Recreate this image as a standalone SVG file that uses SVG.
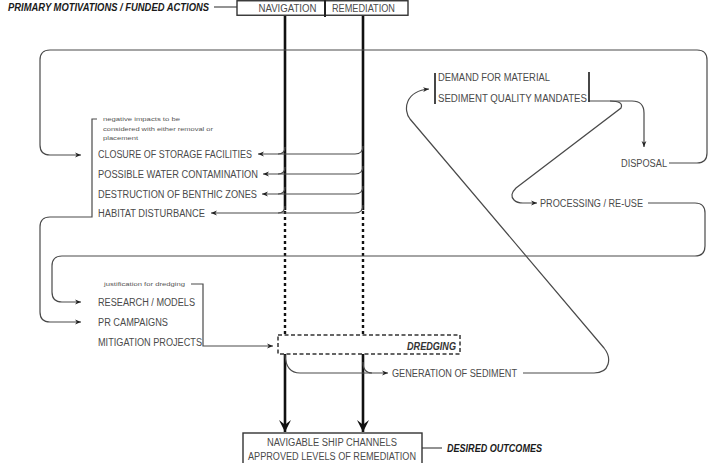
<svg xmlns="http://www.w3.org/2000/svg" width="715" height="463" viewBox="0 0 715 463">
<style>
  .t { font-family: "Liberation Sans", Arial, sans-serif; font-size: 10px; fill: #4a4a4a; }
  .s { font-family: "Liberation Sans", Arial, sans-serif; font-size: 6px; fill: #555; }
  .b { font-family: "Liberation Sans", Arial, sans-serif; font-size: 10px; font-weight: bold; font-style: italic; fill: #1a1a1a; }
  .ln { fill: none; stroke: #4a4a4a; stroke-width: 1.2; }
  .thick { fill: none; stroke: #111; stroke-width: 2.6; }
  .dot { fill: none; stroke: #111; stroke-width: 2.4; stroke-dasharray: 3 3; }
  .box { fill: #fff; stroke: #333; stroke-width: 1.4; }
  .dbox { fill: none; stroke: #333; stroke-width: 1.5; stroke-dasharray: 4 2.5; }
  .bar { stroke: #333; stroke-width: 1.8; }
</style>
<defs>
  <marker id="ah" viewBox="0 0 10 10" refX="10" refY="5" markerWidth="6" markerHeight="6" markerUnits="userSpaceOnUse" orient="auto">
    <path d="M0,1 L10,5 L0,9 L3,5 z" fill="#222"/>
  </marker>
  <marker id="big" viewBox="0 0 10 10" refX="10" refY="5" markerWidth="12" markerHeight="13" markerUnits="userSpaceOnUse" orient="auto">
    <path d="M0,0 L10,5 L0,10 L4,5 z" fill="#111"/>
  </marker>
</defs>
<rect width="715" height="463" fill="#fff"/>

<g id="connectors">
  <!-- primary label leader -->
  <path class="ln" d="M214 7 H237"/>
  <!-- vertical navigation / remediation -->
  <path class="thick" d="M285 15.5 V210"/>
  <path class="thick" d="M363 15.5 V210"/>
  <path class="dot" d="M285 211 V335"/>
  <path class="dot" d="M363 211 V335"/>
  <path class="thick" d="M285 354 V432" marker-end="url(#big)"/>
  <path class="thick" d="M363 354 V432" marker-end="url(#big)"/>
  <!-- impacts arrows -->
  <path class="ln" d="M363 146 Q363 154 355 154 H258" marker-end="url(#ah)"/>
  <path class="ln" d="M285 147 Q285 154 278 154"/>
  <path class="ln" d="M363 166 Q363 174 355 174 H263" marker-end="url(#ah)"/>
  <path class="ln" d="M285 167 Q285 174 278 174"/>
  <path class="ln" d="M363 186 Q363 194 355 194 H262" marker-end="url(#ah)"/>
  <path class="ln" d="M285 187 Q285 194 278 194"/>
  <path class="ln" d="M363 205 Q363 213 355 213 H211" marker-end="url(#ah)"/>
  <path class="ln" d="M285 206 Q285 213 278 213"/>
  <!-- disposal loop back to closure -->
  <path class="ln" d="M669 163 H697 Q707 163 707 153 V60 Q707 50 697 50 H50 Q40 50 40 60 V145 Q40 155 50 155 H81" marker-end="url(#ah)"/>
  <!-- impacts bracket to PR campaigns -->
  <path class="ln" d="M97 119 H92 V217 H50 Q40 217 40 227 V312 Q40 322 50 322 H81" marker-end="url(#ah)"/>
  <!-- processing loop back to research -->
  <path class="ln" d="M648 203 H695 Q705 203 705 213 V246 Q705 256 695 256 H62 Q52 256 52 266 V292 Q52 302 62 302 H81" marker-end="url(#ah)"/>
  <!-- justification bracket to dredging -->
  <path class="ln" d="M191 284 H203 V346 H273" marker-end="url(#ah)"/>
  <!-- dredging to generation of sediment -->
  <path class="ln" d="M285 355 Q286 373 300 373 H388" marker-end="url(#ah)"/>
  <path class="ln" d="M363 362 Q363 373 372 373"/>
  <!-- generation of sediment back to demand -->
  <path class="ln" d="M523 373 H594 C610 373 612 358 604 348 L410 119 C403 110 405 91 429 89" marker-end="url(#ah)"/>
  <!-- mandates to disposal -->
  <path class="ln" d="M589 101 H632 Q644 101 644 113 V147" marker-end="url(#ah)"/>
  <!-- mandates to processing -->
  <path class="ln" d="M610 101 Q624 101 621 108 L516 188 Q509 195 514 200 Q517 203 523 203 H537" marker-end="url(#ah)"/>
  <!-- desired outcomes leader -->
  <path class="ln" d="M422 448 H442"/>
</g>

<g id="primary-label">
  <text class="b" x="8" y="10.5" textLength="201" lengthAdjust="spacingAndGlyphs">PRIMARY MOTIVATIONS / FUNDED ACTIONS</text>
</g>

<g id="motivations">
  <rect class="box" x="237" y="0.75" width="171" height="14.5"/>
  <path d="M325 0 V17" stroke="#222" stroke-width="2"/>
  <text class="t" x="287.5" y="11.5" text-anchor="middle" textLength="58" lengthAdjust="spacingAndGlyphs">NAVIGATION</text>
  <text class="t" x="363.5" y="11.5" text-anchor="middle" textLength="63" lengthAdjust="spacingAndGlyphs">REMEDIATION</text>
</g>

<g id="impacts-note">
  <text class="s" x="103" y="121" textLength="77" lengthAdjust="spacingAndGlyphs">negative impacts to be</text>
  <text class="s" x="103" y="131" textLength="110" lengthAdjust="spacingAndGlyphs">considered with either removal or</text>
  <text class="s" x="103" y="140" textLength="35" lengthAdjust="spacingAndGlyphs">placement</text>
</g>

<g id="closure">
  <text class="t" x="98" y="157.5" textLength="154" lengthAdjust="spacingAndGlyphs">CLOSURE OF STORAGE FACILITIES</text>
</g>
<g id="contamination">
  <text class="t" x="98" y="177.5" textLength="160" lengthAdjust="spacingAndGlyphs">POSSIBLE WATER CONTAMINATION</text>
</g>
<g id="benthic">
  <text class="t" x="98" y="197.5" textLength="159" lengthAdjust="spacingAndGlyphs">DESTRUCTION OF BENTHIC ZONES</text>
</g>
<g id="habitat">
  <text class="t" x="98" y="216.5" textLength="107" lengthAdjust="spacingAndGlyphs">HABITAT DISTURBANCE</text>
</g>

<g id="justification-note">
  <text class="s" x="104" y="286" textLength="81" lengthAdjust="spacingAndGlyphs">justification for dredging</text>
</g>
<g id="research">
  <text class="t" x="98" y="305.5" textLength="97" lengthAdjust="spacingAndGlyphs">RESEARCH / MODELS</text>
</g>
<g id="pr">
  <text class="t" x="98" y="325.5" textLength="70" lengthAdjust="spacingAndGlyphs">PR CAMPAIGNS</text>
</g>
<g id="mitigation">
  <text class="t" x="98" y="345.5" textLength="104" lengthAdjust="spacingAndGlyphs">MITIGATION PROJECTS</text>
</g>

<g id="dredging">
  <rect class="dbox" x="278" y="335" width="182" height="19"/>
  <text class="t" x="407" y="349.5" textLength="49" lengthAdjust="spacingAndGlyphs" style="font-style:italic;font-weight:bold;fill:#333">DREDGING</text>
</g>

<g id="generation">
  <text class="t" x="392" y="376.5" textLength="125" lengthAdjust="spacingAndGlyphs">GENERATION OF SEDIMENT</text>
</g>

<g id="demand">
  <line class="bar" x1="435" y1="73" x2="435" y2="104"/>
  <line class="bar" x1="589" y1="72" x2="589" y2="102" stroke-width="2.2"/>
  <text class="t" x="438" y="80.5" textLength="112" lengthAdjust="spacingAndGlyphs">DEMAND FOR MATERIAL</text>
  <text class="t" x="438" y="102" textLength="149" lengthAdjust="spacingAndGlyphs">SEDIMENT QUALITY MANDATES</text>
</g>

<g id="disposal">
  <text class="t" x="621" y="166.5" textLength="46" lengthAdjust="spacingAndGlyphs">DISPOSAL</text>
</g>

<g id="processing">
  <text class="t" x="540" y="206.5" textLength="103" lengthAdjust="spacingAndGlyphs">PROCESSING / RE-USE</text>
</g>

<g id="outcomes">
  <rect class="box" x="243" y="433" width="179" height="32"/>
  <text class="t" x="332" y="445.5" text-anchor="middle" textLength="130" lengthAdjust="spacingAndGlyphs">NAVIGABLE SHIP CHANNELS</text>
  <text class="t" x="332" y="459.5" text-anchor="middle" textLength="168" lengthAdjust="spacingAndGlyphs">APPROVED LEVELS OF REMEDIATION</text>
</g>

<g id="desired-label">
  <text class="b" x="447" y="451.5" textLength="95" lengthAdjust="spacingAndGlyphs">DESIRED OUTCOMES</text>
</g>
</svg>
